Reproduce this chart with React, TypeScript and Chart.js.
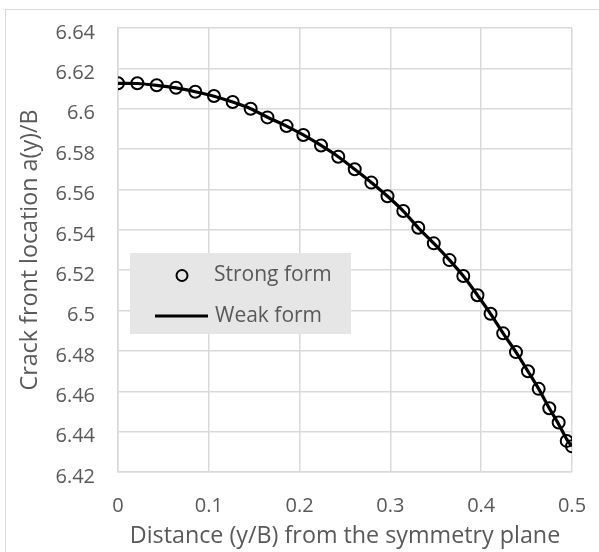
import React, { useEffect, useRef } from "react";
import { Chart, registerables } from "chart.js";

Chart.register(...registerables);

// Distance y/B from the symmetry plane
const distance = [
  0, 0.0213, 0.0426, 0.0639, 0.0851, 0.1057, 0.1263, 0.1461, 0.1646, 0.1856,
  0.2041, 0.2236, 0.2426, 0.2607, 0.279, 0.2968, 0.3142, 0.3307, 0.3478, 0.3651,
  0.3803, 0.3959, 0.4103, 0.4242, 0.4383, 0.4515, 0.4633, 0.475, 0.4853, 0.4942,
  0.5,
];
// Strong form (circles)
const strongForm = [
  6.6126, 6.6126, 6.6116, 6.6104, 6.6084, 6.6063, 6.6033, 6.6, 6.5957, 6.5914,
  6.587, 6.5818, 6.5762, 6.57, 6.5634, 6.5566, 6.5493, 6.541, 6.5333, 6.525,
  6.5171, 6.5076, 6.4984, 6.4887, 6.4794, 6.4699, 6.4612, 6.4516, 6.4445, 6.4354,
  6.4327,
];
// Weak form (line)
const weakForm = [
  6.6126, 6.6125, 6.6116, 6.6103, 6.6084, 6.6062, 6.6033, 6.6, 6.5958, 6.5914,
  6.587, 6.5818, 6.5762, 6.57, 6.5634, 6.5566, 6.5493, 6.541, 6.5333, 6.525,
  6.5171, 6.5076, 6.4984, 6.4887, 6.4794, 6.4699, 6.4612, 6.4516, 6.4437, 6.4362,
  6.4327,
];

const xTickValues = [0, 0.1, 0.2, 0.3, 0.4, 0.5];
const yTickValues = [6.42, 6.44, 6.46, 6.48, 6.5, 6.52, 6.54, 6.56, 6.58, 6.6, 6.62, 6.64];
const seriesLabels = ["Strong form", "Weak form"];
const xTitle = "Distance (y/B) from the symmetry plane";
const yTitle = "Crack front location a(y)/B";

const FONT = "'Open Sans', 'DejaVu Sans', sans-serif";
const TEXT = "#595959";
const GRID = "#d9d9d9";

const legendPlugin = {
  id: "boxLegend",
  afterDraw(chart: any) {
    const { ctx, chartArea } = chart;
    const x0 = chartArea.left + 12;
    const y0 = chartArea.top + 225;
    const w = 221;
    const h = 81;
    ctx.save();
    ctx.fillStyle = "#e6e6e6";
    ctx.fillRect(x0, y0, w, h);
    ctx.beginPath();
    ctx.strokeStyle = "#000";
    ctx.lineWidth = 2;
    ctx.arc(x0 + 52, y0 + 22.5, 5.5, 0, Math.PI * 2);
    ctx.stroke();
    ctx.beginPath();
    ctx.lineWidth = 3.2;
    ctx.moveTo(x0 + 25, y0 + 63);
    ctx.lineTo(x0 + 78, y0 + 63);
    ctx.stroke();
    ctx.fillStyle = TEXT;
    ctx.font = `21px ${FONT}`;
    ctx.textBaseline = "middle";
    ctx.textAlign = "left";
    ctx.fillText(chart.data.datasets[0].label, x0 + 84, y0 + 22);
    ctx.fillText(chart.data.datasets[1].label, x0 + 85, y0 + 63);
    ctx.restore();
  },
};

const zeroPad = (s: any) => {
  s.paddingTop = 0;
  s.paddingBottom = 0;
  s.paddingLeft = 0;
  s.paddingRight = 0;
};

export default function App() {
  const ref = useRef<HTMLCanvasElement>(null);

  useEffect(() => {
    if (!ref.current) return;
    const chart = new Chart(ref.current, {
      type: "scatter",
      data: {
        datasets: [
          {
            label: seriesLabels[0],
            data: distance.map((x, i) => ({ x, y: strongForm[i] })),
            showLine: false,
            pointStyle: "circle",
            pointRadius: 6,
            pointBorderWidth: 2,
            pointBorderColor: "#000",
            pointBackgroundColor: "rgba(0,0,0,0)",
            borderColor: "#000",
            backgroundColor: "rgba(0,0,0,0)",
          },
          {
            label: seriesLabels[1],
            data: distance.map((x, i) => ({ x, y: weakForm[i] })),
            showLine: true,
            borderColor: "#000",
            borderWidth: 3.2,
            pointRadius: 0,
            tension: 0.3,
            backgroundColor: "#000",
          },
        ],
      },
      options: {
        responsive: false,
        animation: false,
        layout: { padding: { left: 0, top: 28, right: 27, bottom: 0 } },
        plugins: {
          legend: { display: false },
          tooltip: { enabled: false },
        },
        scales: {
          x: {
            type: "linear",
            min: 0,
            max: 0.5,
            afterFit: (s: any) => {
              s.height = 80;
              zeroPad(s);
            },
            afterBuildTicks: (s: any) => {
              s.ticks = xTickValues.map((v) => ({ value: v }));
            },
            ticks: {
              padding: 22,
              color: TEXT,
              font: { family: FONT, size: 20 },
              callback: (v: any) => (v === 0 ? "0" : Number(v).toFixed(1)),
            },
            grid: { color: GRID, lineWidth: 1.5, drawTicks: false },
            border: { color: GRID, width: 1.5 },
            title: {
              display: true,
              text: xTitle,
              color: TEXT,
              font: { family: FONT, size: 23.3 },
              padding: { top: 0, bottom: 2 },
            },
          },
          y: {
            type: "linear",
            min: 6.42,
            max: 6.64,
            afterFit: (s: any) => {
              s.width = 118;
              zeroPad(s);
            },
            afterBuildTicks: (s: any) => {
              s.ticks = yTickValues.map((v) => ({ value: v }));
            },
            ticks: {
              padding: 23,
              labelOffset: 5,
              color: TEXT,
              font: { family: FONT, size: 20 },
              callback: (v: any) => String(parseFloat(Number(v).toFixed(2))),
            },
            grid: { color: GRID, lineWidth: 1.5, drawTicks: false },
            border: { color: GRID, width: 1.5 },
            title: {
              display: true,
              text: yTitle,
              color: TEXT,
              font: { family: FONT, size: 23.3 },
              padding: { top: 16, bottom: 0 },
            },
          },
        },
      },
      plugins: [legendPlugin],
    });
    return () => chart.destroy();
  }, []);

  return (
    <div
      style={{
        position: "absolute",
        left: 0,
        top: 0,
        width: 599,
        height: 552,
        overflow: "hidden",
        background: "#fff",
      }}
    >
      <div
        style={{
          position: "absolute",
          left: 5,
          top: 9,
          width: 800,
          height: 800,
          border: "1px solid #d9d9d9",
        }}
      />
      <canvas ref={ref} width={599} height={552} style={{ position: "absolute", left: 0, top: 0 }} />
    </div>
  );
}
